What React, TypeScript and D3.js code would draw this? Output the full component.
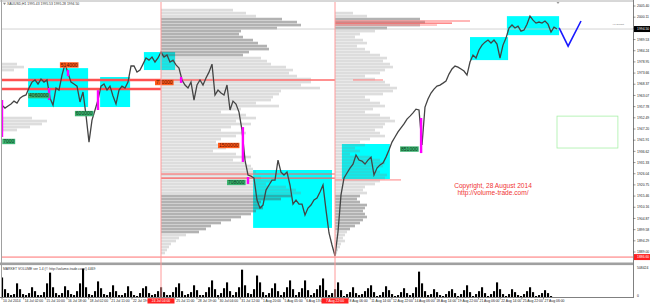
import React from "react";
import * as d3 from "d3";

// ---- DATA ----
const prices = [1958.5,1957.1,1958.1,1959.0,1960.4,1959.5,1961.8,1962.8,1963.3,1966.6,
1969.4,1970.4,1968.5,1970.8,1969.4,1970.4,1961.8,1958.5,1966.6,1965.6,
1972.7,1977.9,1973.7,1969.4,1968.5,1967.5,1960.0,1964.7,1953.8,1941.0,
1951.4,1956.2,1960.9,1967.5,1968.5,1965.6,1967.5,1962.8,1959.0,1965.6,
1967.5,1966.6,1969.4,1977.0,1977.0,1974.1,1975.1,1977.9,1980.8,1979.8,
1981.2,1978.9,1980.8,1983.6,1981.2,1982.2,1978.9,1979.8,1977.5,1976.0,
1970.4,1968.0,1966.6,1969.4,1960.9,1968.0,1970.4,1968.0,1971.3,1974.1,
1977.9,1963.3,1965.6,1964.2,1963.3,1968.0,1956.2,1960.4,1959.0,1955.2,
1946.7,1932.5,1925.4,1924.9,1924.0,1913.6,1909.8,1911.2,1918.3,1920.7,
1923.0,1923.0,1932.5,1926.8,1925.4,1926.8,1920.7,1911.7,1913.6,1911.7,
1911.7,1906.5,1909.8,1911.2,1913.6,1914.5,1917.4,1920.7,1908.9,1898.0,
1892.3,1887.1,1898.5,1916.0,1924.0,1926.4,1928.7,1930.6,1934.9,1932.5,
1932.0,1930.6,1932.5,1933.9,1925.4,1928.7,1930.2,1931.1,1933.9,1937.3,
1941.0,1943.4,1945.8,1947.7,1949.6,1951.9,1953.3,1954.8,1956.6,1956.2,
1939.6,1957.6,1961.4,1964.2,1966.1,1967.5,1968.0,1968.9,1969.9,1973.2,
1975.6,1977.0,1976.5,1975.6,1974.6,1972.7,1978.9,1982.2,1980.8,1984.6,
1986.9,1988.3,1989.3,1987.9,1989.3,1987.4,1980.8,1986.9,1990.2,1995.0,
1996.4,1995.0,1995.9,1993.5,1994.0,1996.8,2000.6,1998.7,1997.3,1997.8,
1997.3,1998.3,1996.8,1993.1,1995.4,1994.5];

const volumes = [320,128,64,32,48,224,128,48,32,64,
160,96,32,32,80,224,400,160,64,32,
64,176,112,48,32,96,224,464,160,48,
32,96,256,144,48,32,80,192,96,32,
32,64,176,96,32,16,64,144,176,64,
32,48,96,160,80,32,32,80,160,224,
96,32,48,80,192,112,32,32,80,160,
272,128,32,64,144,240,96,32,80,160,
448,192,64,48,128,352,240,80,32,64,
144,224,96,32,80,160,272,128,32,80,
144,272,112,32,64,128,192,304,112,32,
64,128,240,112,16,48,80,160,64,32,
48,96,144,192,80,16,32,80,176,112,
48,16,32,80,144,64,32,64,160,416,
224,96,32,48,128,80,32,16,48,96,
128,64,16,48,112,192,80,16,48,96,
160,64,16,48,96,240,128,48,16,48,
128,80,32,16,48,96,160,80,16,32,
64,112,64,16,0,0];

const priceTickLabels = ["2005.40","2000.11","1994.82","1989.53","1984.24","1978.95","1973.66","1968.37","1963.07","1957.78","1952.49","1947.20","1941.91","1936.62","1931.33","1926.04","1920.75","1915.46","1910.16","1904.87","1899.58","1894.29","1889.00"];

const timeLabels = ["10 Jul 2014","14 Jul 02:00","15 Jul 10:00","16 Jul 18:00","18 Jul 02:00","21 Jul 11:00","22 Jul 19:00","","25 Jul 11:00","28 Jul 19:00","30 Jul 04:00","31 Jul 12:00","1 Aug 20:00","5 Aug 05:00","6 Aug 13:00","","8 Aug 06:00","11 Aug 14:00","12 Aug 22:00","14 Aug 06:00","18 Aug 14:00","19 Aug 22:00","21 Aug 06:00","22 Aug 14:00","25 Aug 22:00","27 Aug 06:00"];
const timeLabelStep = 7.22;

const cursorBars = [53, 111];
const cursorLabels = ["24 Jul 04:00", "7 Aug 22:00"];

const profileTop = 2003.47;
const profileStep = 1.419;
const profile0 = [0,0,0,0,0,0,0,0,0,0,
0,0,0,0,0,0,0,0,15,22,
12,0,0,0,0,0,0,0,0,0,
0,0,0,0,0,0,30,45,40,28,
15,0,0,0,0,0,0,0,0,0,
0,0,0,0,0,0,0,0,0,0,
0,0,0,0,0,0,0,0,0,0,
0,0,0,0,0,0,0,0,0,0,
0,0];
const profile1 = [72,85,95,121,136,140,116,80,78,82,
92,97,106,108,88,82,100,106,110,125,
132,128,136,150,150,140,159,120,118,112,
110,95,118,80,60,85,95,75,90,70,
60,85,75,60,55,70,65,52,75,90,
72,85,90,92,95,92,100,110,105,125,
135,140,130,120,100,98,102,95,90,80,
70,60,50,45,38,25,18,15,10,8,
6,4];
const profile2 = [0,18,32,85,90,85,52,40,25,20,
28,32,22,30,35,45,52,48,55,58,
50,45,30,40,50,55,62,58,48,30,
35,45,50,38,30,45,55,60,50,48,
40,45,50,35,25,30,20,25,15,35,
45,50,48,40,45,52,50,45,40,30,
28,32,25,22,25,32,30,28,30,32,
28,25,20,15,12,10,8,10,6,5,
3,2];
const profileAnchors = [0, 53, 111];
const darkRanges0: number[][] = [];
const darkRanges1 = [[1999.5, 1981.9], [1915.8, 1898.2]];
const darkRanges2 = [[1999.5, 1994.6], [1915.8, 1899.6]];

const boxes = [
  [8.7, 28.7, 1976.0, 1957.6],
  [32.7, 42.7, 1971.8, 1957.6],
  [47.3, 57.7, 1983.6, 1975.1],
  [83.7, 110, 1927.8, 1900.4],
  [113.3, 129.3, 1940.1, 1923.5],
  [156, 168.7, 1990.7, 1979.8],
  [168.3, 185.7, 2000.6, 1991.6],
];

// price, fromBar, toBar, weight, colour
const pocLines: [number, number, number, number, string][] = [
  [1970.4, -2, 53, 2.4, "#ff5050"],
  [1970.4, 53, 111, 1.4, "#ff6b6b"],
  [1966.1, -2, 53, 2.4, "#ff5050"],
  [1998.3, 111, 156, 1, "#ff7070"],
  [1997.3, 111, 150, 1, "#ff4040"],
  [1996.4, 111, 145, 1, "#ff9090"],
  [1970.4, 117, 127, 1, "#ff7a7a"],
  [1925.9, 53, 111, 1.2, "#ff6060"],
  [1924.0, 53, 111, 1.2, "#ff6060"],
  [1923.1, 111, 133, 1, "#ff8080"],
];

const magentaBars = [
  [0, 1960.9, 1943.4],
  [15.7, 1966.6, 1960.9],
  [22, 1975.1, 1972.2],
  [32, 1965.6, 1956.2],
  [59.7, 1971.8, 1969.0],
  [80.3, 1948.1, 1931.6],
  [82, 1924.5, 1921.2],
  [139.7, 1952.4, 1935.8],
];

const tagTexts = ["514000", "770000", "1500000", "4060000", "600000", "7000", "708000", "851000"];
const tagBars = [19.3, 51, 72, 8.7, 24.3, 0.1, 75, 132.7];
const tagPrices = [1977.5, 1969.2, 1939.4, 1963.0, 1954.5, 1941.3, 1921.9, 1937.7];
const tagKinds = ["sell", "sell", "sell", "buy", "buy", "buy", "buy", "buy"];

const forecastBars = [185.7, 188.7, 193];
const forecastPrices = [1995.0, 1986.4, 1998.3];
const zoneBars = [185, 205.3];
const zonePrices = [1953.3, 1938.2];

const levelPrice = 1886.6;
const volMaxLabel = "508424";
const headerText = "XAUUSD,H1  1995.43 1995.53 1995.28 1994.50";
const volTitle = "MARKET VOLUME ver 1.4 (\u00a9 http://volume-trade.com/) 4469";

export default function App() {
  const L = 2, R = 633, T = 2, B = 262;
  const x = d3.scaleLinear().domain([0, prices.length - 1]).range([2, 557]);
  const y = d3.scaleLinear().domain([1889.0, 2005.4]).range([252, 6]);
  const vy = d3.scaleLinear().domain([0, 508.424]).range([297, 266]);
  const pw = d3.scaleLinear().domain([0, 100]).range([0, 100]);
  const levelH = Math.abs(y(0) - y(profileStep)) * 0.88;
  const lastPrice = prices[prices.length - 1];

  const line = d3.line<number>().x((_, i) => x(i)).y((d) => y(d));
  const vLine = d3.line<number>().x((d) => x(d)).y((_, i) => y(forecastPrices[i]));

  const profiles = [profile0, profile1, profile2];
  const darks = [darkRanges0, darkRanges1, darkRanges2];

  const font = "'Liberation Sans', Arial, sans-serif";
  const tiny = 3.4;

  return (
    <svg width={650} height={305} style={{ position: "absolute", left: 0, top: 0 }} fontFamily={font}>
      <defs>
        <clipPath id="mainClip"><rect x={L} y={T} width={R - L} height={B - T} /></clipPath>
        <clipPath id="volClip"><rect x={L} y={265} width={R - L} height={33} /></clipPath>
      </defs>
      <rect x={0} y={0} width={650} height={305} fill="#fff" />

      <g clipPath="url(#mainClip)">
        {boxes.map((b, i) => (
          <rect key={"b" + i} x={x(b[0])} y={y(b[2])} width={x(b[1]) - x(b[0])} height={y(b[3]) - y(b[2])} fill="#00ffff" />
        ))}
        {profiles.map((prof, pi) =>
          prof.map((v, j) => {
            if (!v) return null;
            const p = profileTop - j * profileStep;
            const dark = darks[pi].some((r) => p <= r[0] && p >= r[1]);
            return (
              <rect key={"p" + pi + "-" + j} x={x(profileAnchors[pi])} y={y(p) - levelH / 2} width={pw(v)} height={levelH}
                fill={dark ? "#555" : "#808080"} fillOpacity={dark ? 0.45 : 0.27} />
            );
          })
        )}
        {pocLines.map((l, i) => (
          <line key={"poc" + i} x1={x(l[1])} x2={x(l[2])} y1={y(l[0])} y2={y(l[0])} stroke={l[4]} strokeWidth={l[3]} />
        ))}
        <line x1={L} x2={R} y1={y(lastPrice)} y2={y(lastPrice)} stroke="#c8c8c8" strokeWidth={0.8} />
        <line x1={L} x2={R} y1={y(levelPrice)} y2={y(levelPrice)} stroke="#ff7070" strokeWidth={1} />
        <path d={line(prices) || ""} fill="none" stroke="#444" strokeWidth={1.3} strokeLinejoin="miter" />
        {magentaBars.map((m, i) => (
          <line key={"m" + i} x1={x(m[0])} x2={x(m[0])} y1={y(m[1])} y2={y(m[2])} stroke="#ff00ff" strokeWidth={2.4} />
        ))}
        {tagTexts.map((t, i) => {
          const w = t.length * 2.85 + 1.5;
          const cx = x(tagBars[i]);
          const cy = y(tagPrices[i]);
          const sell = tagKinds[i] === "sell";
          return (
            <g key={"t" + i}>
              <rect x={cx} y={cy - 2.7} width={w} height={5.4} fill={sell ? "#ff5a1a" : "#3cb371"} />
              <text x={cx + w / 2} y={cy + 1.8} fontSize={5} textAnchor="middle" fill={sell ? "#5a1000" : "#0b3d1e"}>{t}</text>
            </g>
          );
        })}
        <path d={vLine(forecastBars) || ""} fill="none" stroke="#1a1aff" strokeWidth={1.6} />
        <rect x={x(zoneBars[0])} y={y(zonePrices[0])} width={x(zoneBars[1]) - x(zoneBars[0])} height={y(zonePrices[1]) - y(zonePrices[0])}
          fill="none" stroke="#a8f0a8" strokeWidth={0.8} />
        <text x={493} y={188} fontSize={6.6} textAnchor="middle" fill="#f03535">Copyright, 28 August 2014</text>
        <text x={493} y={195} fontSize={6.6} textAnchor="middle" fill="#f03535">http://volume-trade.com/</text>
        <text x={624} y={25} fontSize={2.4} textAnchor="end" fill="#777">VP Default</text>
        <path d="M3,2.8 L6,2.8 L4.5,5 Z" fill="#888" />
        <text x={7} y={5.2} fontSize={tiny} fill="#333">{headerText}</text>
        <path d="M556.5,2 L559.5,2 L558,4 Z" fill="#999" />
      </g>

      {/* frames */}
      <line x1={1.5} x2={1.5} y1={0} y2={298} stroke="#a0a0a0" strokeWidth={1} />
      <line x1={0} x2={R} y1={1} y2={1} stroke="#b0b0b0" strokeWidth={1} />
      <rect x={0} y={262.5} width={R} height={2.6} fill="#a0a0a0" />

      {/* volume */}
      <g clipPath="url(#volClip)">
        {volumes.map((v, i) => (
          <rect key={"v" + i} x={x(i) - 1} y={vy(v)} width={2.1} height={vy(0) - vy(v)} fill="#000" />
        ))}
      </g>
      <text x={3} y={269.5} fontSize={tiny} fill="#333">{volTitle}</text>

      {/* cursor lines */}
      {cursorBars.map((k, i) => (
        <line key={"c" + i} x1={x(k)} x2={x(k)} y1={2} y2={297.5} stroke="#ff9a9a" strokeWidth={1} />
      ))}

      {/* axes */}
      <line x1={R + 0.5} x2={R + 0.5} y1={0} y2={298} stroke="#808080" strokeWidth={1} />
      <line x1={0} x2={R} y1={297.5} y2={297.5} stroke="#808080" strokeWidth={1} />
      {priceTickLabels.map((t, i) => {
        const yy = y(parseFloat(t));
        return (
          <g key={"pt" + i}>
            <line x1={R} x2={R + 2.5} y1={yy} y2={yy} stroke="#555" strokeWidth={0.6} />
            <text x={R + 4} y={yy + 1.2} fontSize={tiny} fill="#222">{t}</text>
          </g>
        );
      })}
      <rect x={R + 1} y={y(lastPrice) - 3} width={16} height={6} fill="#000" />
      <text x={R + 4} y={y(lastPrice) + 1.2} fontSize={tiny} fill="#fff">{lastPrice.toFixed(2)}</text>
      <rect x={R + 1} y={y(levelPrice) - 3} width={16} height={6} fill="#ff2020" />
      <text x={R + 4} y={y(levelPrice) + 1.2} fontSize={tiny} fill="#fff">{levelPrice.toFixed(2)}</text>
      <text x={R + 4} y={268.5} fontSize={tiny} fill="#222">{volMaxLabel}</text>
      <text x={R + 4} y={297} fontSize={tiny} fill="#222">0</text>

      {timeLabels.map((t, i) => {
        if (!t) return null;
        const xx = x(i * timeLabelStep);
        return (
          <g key={"tl" + i}>
            <line x1={xx} x2={xx} y1={297.5} y2={299.5} stroke="#555" strokeWidth={0.6} />
            <text x={xx + 1} y={302} fontSize={tiny} fill="#222">{t}</text>
          </g>
        );
      })}
      {cursorBars.map((k, i) => (
        <g key={"cl" + i}>
          <rect x={x(k) - 13.5} y={298.3} width={27} height={5.2} fill="#ff2020" />
          <text x={x(k)} y={302} fontSize={tiny} textAnchor="middle" fill="#fff">{cursorLabels[i]}</text>
        </g>
      ))}
    </svg>
  );
}
